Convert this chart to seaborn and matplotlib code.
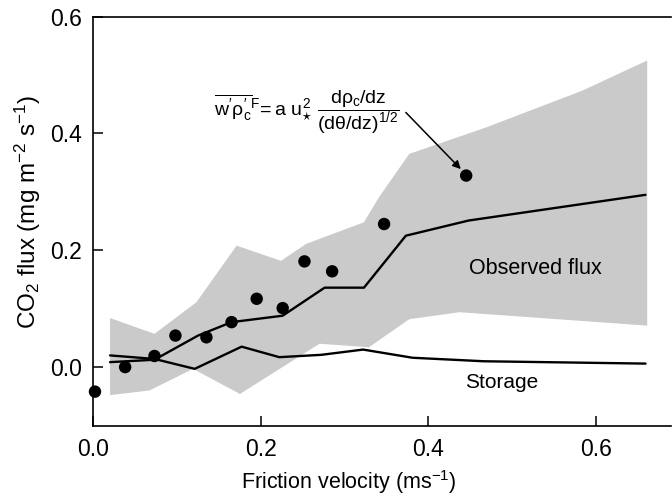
import numpy as np
import pandas as pd
import matplotlib
matplotlib.use("Agg")
import matplotlib.pyplot as plt
import seaborn as sns

# Data
u_dots = [0.002, 0.038, 0.073, 0.098, 0.135, 0.165, 0.195, 0.226, 0.252, 0.285, 0.347, 0.445]
flux_dots = [-0.042, 0.0, 0.019, 0.054, 0.051, 0.077, 0.117, 0.101, 0.181, 0.164, 0.245, 0.328]

u_obs = [0.020, 0.073, 0.125, 0.165, 0.226, 0.276, 0.323, 0.373, 0.448, 0.659]
obs_mean = [0.0085, 0.0126, 0.054, 0.077, 0.088, 0.136, 0.136, 0.225, 0.251, 0.295]

u_sto = [0.020, 0.073, 0.121, 0.177, 0.222, 0.272, 0.322, 0.381, 0.466, 0.659]
storage = [0.020, 0.014, -0.003, 0.035, 0.017, 0.021, 0.030, 0.016, 0.010, 0.006]

# shaded range of observed flux
u_up = [0.020, 0.073, 0.123, 0.171, 0.224, 0.254, 0.323, 0.341, 0.377, 0.468, 0.583, 0.661]
band_up = [0.084, 0.057, 0.111, 0.208, 0.182, 0.211, 0.248, 0.291, 0.365, 0.410, 0.473, 0.525]
u_lo = [0.020, 0.067, 0.119, 0.175, 0.270, 0.329, 0.377, 0.437, 0.661]
band_lo = [-0.048, -0.040, -0.003, -0.046, 0.040, 0.034, 0.082, 0.094, 0.071]

sns.set_theme(style="ticks")
plt.rcParams['font.family'] = ['Liberation Sans', 'DejaVu Sans']
plt.rcParams['mathtext.fontset'] = 'custom'
plt.rcParams['mathtext.rm'] = 'Liberation Sans'
plt.rcParams['mathtext.it'] = 'Liberation Sans'
plt.rcParams['mathtext.bf'] = 'Liberation Sans:bold'
plt.rcParams['text.color'] = 'black'
plt.rcParams['axes.labelcolor'] = 'black'

fig = plt.figure(figsize=(6.72, 4.98), dpi=100)
ax = fig.add_axes([93.3 / 672, 72.5 / 498, 1 - 93.3 / 672 - 0.002, (425.5 - 16.7) / 498])

# grey band
poly_x = np.concatenate([u_up, u_lo[::-1]])
poly_y = np.concatenate([band_up, band_lo[::-1]])
ax.fill(poly_x, poly_y, color='#cacaca', lw=0, zorder=1)

obs_df = pd.DataFrame({'u': u_obs, 'flux': obs_mean})
sto_df = pd.DataFrame({'u': u_sto, 'flux': storage})
sns.lineplot(data=obs_df, x='u', y='flux', color='black', lw=1.7, ax=ax, zorder=3, sort=False)
sns.lineplot(data=sto_df, x='u', y='flux', color='black', lw=1.7, ax=ax, zorder=3, sort=False)

dots_df = pd.DataFrame({'u': u_dots, 'flux': flux_dots})
sns.scatterplot(data=dots_df, x='u', y='flux', color='black', s=80, edgecolor='none',
                ax=ax, zorder=4, clip_on=False)

ax.set_xlim(0, 0.689)
ax.set_ylim(-0.1, 0.6)
ax.set_xticks([0.0, 0.2, 0.4, 0.6])
ax.set_yticks([0.0, 0.2, 0.4, 0.6])
ax.set_xticklabels(['0.0', '0.2', '0.4', '0.6'])
ax.set_yticklabels(['0.0', '0.2', '0.4', '0.6'])
ax.tick_params(direction='in', length=7, width=1.1, labelsize=16.5, colors='black',
               top=False, right=False)
ax.tick_params(axis='x', pad=9)
ax.tick_params(axis='y', pad=8)
for s in ax.spines.values():
    s.set_linewidth(1.2)
    s.set_color('black')
ax.spines['right'].set_visible(False)

ax.set_xlabel(r'Friction velocity (ms$^{-1}$)', fontsize=15.5)
ax.set_ylabel(r'CO$_2$ flux (mg m$^{-2}$ s$^{-1}$)', fontsize=17.5)
ax.xaxis.set_label_coords(0.442, -0.105)
ax.yaxis.set_label_coords(-0.087, 0.523)

ax.text(0.527, 0.168, 'Observed flux', fontsize=15.5, ha='center', va='center')
ax.text(0.487, -0.026, 'Storage', fontsize=15, ha='center', va='center')

ax.text(0.144, 0.436,
        r"$\overline{w^{\prime}\rho_c^{\prime}}^{F}\!= a\ u_{\star}^{2}\ \dfrac{d\rho_c/dz}{(d\theta/dz)^{1/2}}$",
        fontsize=14, ha='left', va='center')
ax.annotate('', xy=(0.4386, 0.339), xytext=(0.373, 0.436),
            arrowprops=dict(arrowstyle='-|>', color='black', lw=1.1,
                            mutation_scale=12, shrinkA=0, shrinkB=0))

fig.savefig('out.png', dpi=100)
